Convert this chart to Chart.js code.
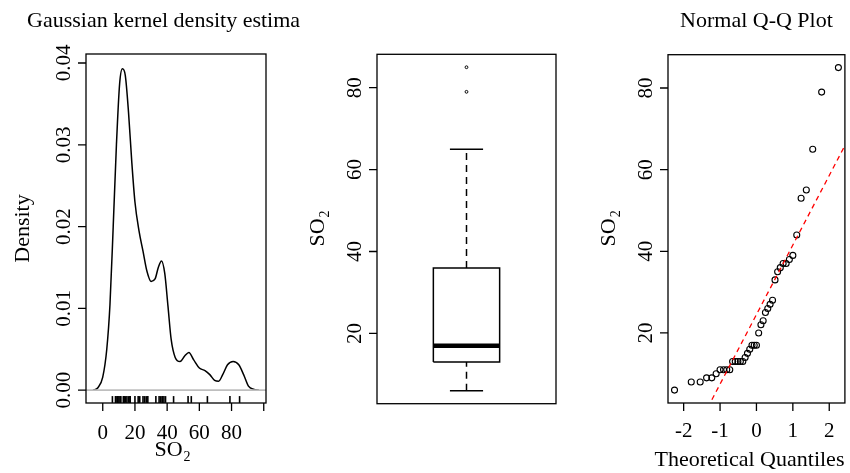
<!DOCTYPE html>
<html>
<head>
<meta charset="utf-8">
<script src="https://cdn.jsdelivr.net/npm/chart.js@4.4.1/dist/chart.umd.min.js"></script>
<style>
  html, body { margin: 0; padding: 0; background: #fff; }
  #wrap { position: relative; width: 850px; height: 473px; }
  #wrap canvas { position: absolute; left: 0; top: 0; }
</style>
</head>
<body>
<div id="wrap">
  <canvas id="densityChart" width="850" height="473"></canvas>
  <canvas id="boxChart" width="850" height="473"></canvas>
  <canvas id="qqChart" width="850" height="473"></canvas>
</div>
<script>
const so2 = [6, 8, 8, 9, 9, 10, 11, 11, 11, 11, 13, 13, 13, 13, 13, 14, 15, 16, 17, 17, 17,
             20, 22, 23, 25, 26, 27, 28, 33, 35, 36, 37, 37, 38, 39, 44, 53, 55, 65, 79, 85];

/* theoretical normal quantiles for the 41 points */
const theoQ = [-2.251, -1.791, -1.546, -1.370, -1.227, -1.107, -1.000, -0.904, -0.816, -0.733,
               -0.655, -0.582, -0.510, -0.442, -0.375, -0.311, -0.247, -0.184, -0.123, -0.061, 0,
               0.061, 0.123, 0.184, 0.247, 0.311, 0.375, 0.442, 0.510, 0.582, 0.655,
               0.733, 0.816, 0.904, 1.000, 1.107, 1.227, 1.370, 1.546, 1.791, 2.251];

/* kernel density curve */
const densX = [-6, -3, 0, 2.5, 4.5, 6.5, 8.5, 10.5, 12.2, 14, 16, 18, 20, 22.5, 25, 27.5, 30,
               32.5, 34.5, 36.5, 38.5, 40.5, 42.5, 45, 48, 51, 53.5, 56.5, 60, 63.5, 66.5,
               69.5, 72, 74.5, 77.5, 81, 84.5, 87.5, 90.5, 94, 97];
const densY = [0.0000, 0.0003, 0.0016, 0.0050, 0.0105, 0.0200, 0.0300, 0.0375, 0.0393, 0.0385,
               0.0340, 0.0280, 0.0230, 0.0195, 0.0170, 0.0145, 0.0133, 0.0136, 0.0150, 0.0158,
               0.0143, 0.0103, 0.0062, 0.0040, 0.0035, 0.0042, 0.0046, 0.0037, 0.0027, 0.0024,
               0.0019, 0.0012, 0.0011, 0.0019, 0.0031, 0.0035, 0.0031, 0.0019, 0.0005, 0.0001, 0.0000];

/* boxplot statistics */
const boxStats = { lo: 6, q1: 13, med: 17, q3: 36, hi: 65 };
const boxOutliers = [79, 85];

/* Q-Q reference line (through the quartiles) */
const qqLineX = [-2.6, 2.6];
const qqLineY = [-19.8, 68.8];

/* axis ticks */
const densXTicks = [0, 20, 40, 60, 80, 100];
const densXLabels = ['0', '20', '40', '60', '80', ''];
const densYTicks = [0, 0.01, 0.02, 0.03, 0.04];
const densYLabels = ['0.00', '0.01', '0.02', '0.03', '0.04'];
const so2Ticks = [20, 40, 60, 80];
const so2Labels = ['20', '40', '60', '80'];
const qqXTicks = [-2, -1, 0, 1, 2];
const qqXLabels = ['-2', '-1', '0', '1', '2'];

const SERIF = '"Liberation Serif", "DejaVu Serif", serif';
const TICK_FONT = '21px ' + SERIF;
const LAB_FONT = '22px ' + SERIF;
const SUB_FONT = '14px ' + SERIF;

/* text with a subscript, centred on x, baseline at y */
function subText(ctx, main, sub, x, y) {
    ctx.font = LAB_FONT;
    const w1 = ctx.measureText(main).width;
    ctx.font = SUB_FONT;
    const w2 = ctx.measureText(sub).width;
    const x0 = x - (w1 + w2) / 2;
    ctx.textAlign = 'left';
    ctx.font = LAB_FONT;
    ctx.fillText(main, x0, y);
    ctx.font = SUB_FONT;
    ctx.fillText(sub, x0 + w1 + 1, y + 5);
}

/* R style frame, axes and titles drawn on top of the chart */
function rPanel(cfg) {
    return {
        id: 'rPanel',
        afterDraw(chart) {
            const ctx = chart.ctx, a = chart.chartArea;
            const sx = chart.scales.x, sy = chart.scales.y;
            ctx.save();
            ctx.strokeStyle = '#000';
            ctx.fillStyle = '#000';
            ctx.lineWidth = 1.3;
            ctx.strokeRect(a.left, a.top, a.right - a.left, a.bottom - a.top);

            if (cfg.xTicks) {
                ctx.beginPath();
                cfg.xTicks.forEach(v => {
                    const px = sx.getPixelForValue(v);
                    ctx.moveTo(px, a.bottom);
                    ctx.lineTo(px, a.bottom + 8);
                });
                ctx.stroke();
                ctx.font = TICK_FONT;
                ctx.textAlign = 'center';
                ctx.textBaseline = 'alphabetic';
                cfg.xLabels.forEach((t, i) => ctx.fillText(t, sx.getPixelForValue(cfg.xTicks[i]), a.bottom + cfg.xLabelOff));
            }
            if (cfg.yTicks) {
                ctx.beginPath();
                cfg.yTicks.forEach(v => {
                    const py = sy.getPixelForValue(v);
                    ctx.moveTo(a.left, py);
                    ctx.lineTo(a.left - 8, py);
                });
                ctx.stroke();
                ctx.font = TICK_FONT;
                ctx.textAlign = 'center';
                ctx.textBaseline = 'alphabetic';
                cfg.yLabels.forEach((t, i) => {
                    ctx.save();
                    ctx.translate(a.left - 16, sy.getPixelForValue(cfg.yTicks[i]));
                    ctx.rotate(-Math.PI / 2);
                    ctx.fillText(t, 0, 0);
                    ctx.restore();
                });
            }
            const cx = (a.left + a.right) / 2, cy = (a.top + a.bottom) / 2;
            if (cfg.title) {
                ctx.font = LAB_FONT;
                ctx.textAlign = cfg.titleX != null ? 'left' : 'center';
                ctx.fillText(cfg.title, cfg.titleX != null ? cfg.titleX : cx, 27);
            }
            if (cfg.xTitle) {
                ctx.font = LAB_FONT;
                ctx.textAlign = 'center';
                ctx.fillText(cfg.xTitle, cx + (cfg.xTitleDx || 0), a.bottom + cfg.xTitleOff);
            }
            if (cfg.xTitleSub) subText(ctx, 'SO', '2', cx - 4, a.bottom + cfg.xTitleOff);
            if (cfg.yTitle || cfg.yTitleSub) {
                ctx.save();
                ctx.translate(a.left - cfg.yTitleOff, cy);
                ctx.rotate(-Math.PI / 2);
                if (cfg.yTitleSub) {
                    subText(ctx, 'SO', '2', 0, 0);
                } else {
                    ctx.font = LAB_FONT;
                    ctx.textAlign = 'center';
                    ctx.fillText(cfg.yTitle, 0, 0);
                }
                ctx.restore();
            }
            ctx.restore();
        }
    };
}

function baseOptions(pad, xr, yr) {
    return {
        responsive: false,
        animation: false,
        devicePixelRatio: 1,
        layout: { padding: pad },
        plugins: { legend: { display: false }, tooltip: { enabled: false } },
        scales: {
            x: { type: 'linear', display: false, min: xr[0], max: xr[1] },
            y: { type: 'linear', display: false, min: yr[0], max: yr[1] }
        }
    };
}

/* ---------- panel 1: density ---------- */
const densXRange = [-10.4, 101.4];
new Chart(document.getElementById('densityChart'), {
    type: 'scatter',
    data: {
        datasets: [
            {   // zero reference line
                data: densXRange.map(x => ({ x: x, y: 0 })),
                showLine: true, borderColor: '#bebebe', borderWidth: 1.6, pointRadius: 0
            },
            {
                data: densX.map((x, i) => ({ x: x, y: densY[i] })),
                showLine: true, borderColor: '#000', borderWidth: 1.5, pointRadius: 0,
                cubicInterpolationMode: 'monotone'
            },
            {   // rug
                data: so2.map(v => ({ x: v, y: -0.00114 })),
                pointStyle: 'line', rotation: 90, radius: 3.4,
                borderColor: '#000', borderWidth: 1.6, backgroundColor: '#000'
            }
        ]
    },
    options: baseOptions({ left: 86, right: 850 - 266, top: 54, bottom: 473 - 403 },
                         densXRange, [-0.00157, 0.0411]),
    plugins: [rPanel({
        xTicks: densXTicks, xLabels: densXLabels, xLabelOff: 36,
        yTicks: densYTicks, yLabels: densYLabels,
        title: 'Gaussian kernel density estima', titleX: 27,
        xTitleSub: true, xTitleOff: 53,
        yTitle: 'Density', yTitleOff: 57
    })]
});

/* ---------- panel 2: boxplot ---------- */
const so2Range = [2.84, 88.16];
const seg = (pts, extra) => Object.assign({
    data: pts, showLine: true, borderColor: '#000', borderWidth: 1.5, pointRadius: 0
}, extra || {});
const b = boxStats;
new Chart(document.getElementById('boxChart'), {
    type: 'scatter',
    data: {
        datasets: [
            seg([{ x: 1, y: b.q3 }, { x: 1, y: b.hi }], { borderDash: [7, 5] }),
            seg([{ x: 1, y: b.lo }, { x: 1, y: b.q1 }], { borderDash: [7, 5] }),
            seg([{ x: 0.9, y: b.hi }, { x: 1.1, y: b.hi }]),
            seg([{ x: 0.9, y: b.lo }, { x: 1.1, y: b.lo }]),
            seg([{ x: 0.8, y: b.q1 }, { x: 1.2, y: b.q1 }, { x: 1.2, y: b.q3 },
                 { x: 0.8, y: b.q3 }, { x: 0.8, y: b.q1 }], { backgroundColor: '#fff', fill: true }),
            seg([{ x: 0.8, y: b.med }, { x: 1.2, y: b.med }], { borderWidth: 4.5, borderCapStyle: 'butt' }),
            {
                data: boxOutliers.map(v => ({ x: 1, y: v })),
                pointRadius: 1.4, borderColor: '#000', borderWidth: 1, backgroundColor: 'rgba(0,0,0,0)'
            }
        ]
    },
    options: baseOptions({ left: 377, right: 850 - 556, top: 54.3, bottom: 473 - 403.7 },
                         [0.46, 1.54], so2Range),
    plugins: [rPanel({
        yTicks: so2Ticks, yLabels: so2Labels,
        yTitleSub: true, yTitleOff: 53
    })]
});

/* ---------- panel 3: normal Q-Q ---------- */
new Chart(document.getElementById('qqChart'), {
    type: 'scatter',
    data: {
        datasets: [
            {
                data: qqLineX.map((x, i) => ({ x: x, y: qqLineY[i] })),
                showLine: true, borderColor: '#ff0000', borderWidth: 1.3, borderDash: [5, 4],
                pointRadius: 0
            },
            {
                data: theoQ.map((q, i) => ({ x: q, y: so2[i] })),
                pointRadius: 3, borderColor: '#000', borderWidth: 1.1, backgroundColor: 'rgba(0,0,0,0)'
            }
        ]
    },
    options: baseOptions({ left: 668, right: 850 - 847, top: 54.7, bottom: 473 - 403 },
                         [-2.43, 2.43], so2Range),
    plugins: [rPanel({
        xTicks: qqXTicks, xLabels: qqXLabels, xLabelOff: 34,
        yTicks: so2Ticks, yLabels: so2Labels,
        title: 'Normal Q-Q Plot',
        xTitle: 'Theoretical Quantiles', xTitleOff: 63, xTitleDx: -7,
        yTitleSub: true, yTitleOff: 53
    })]
});
</script>
</body>
</html>
